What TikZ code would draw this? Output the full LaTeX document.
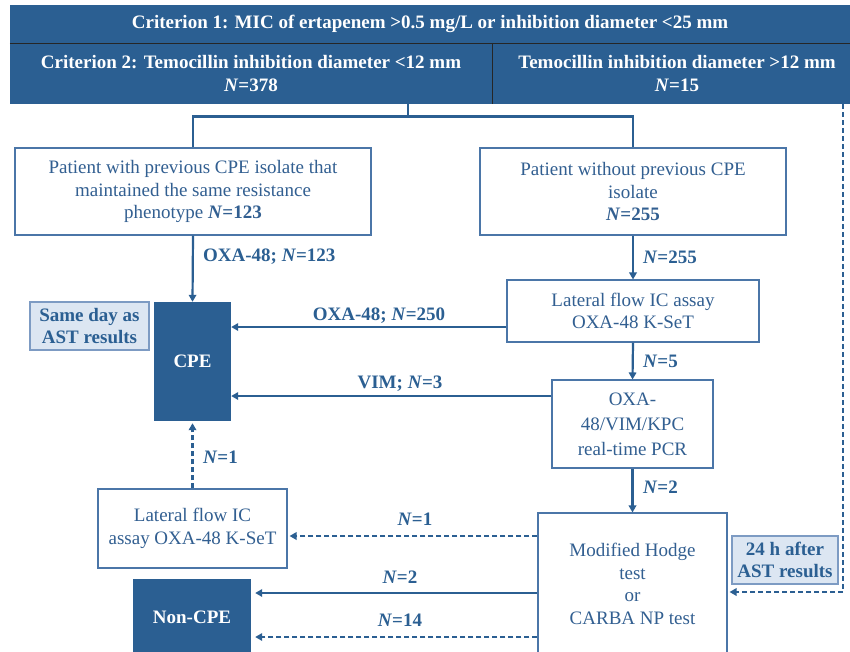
\documentclass[tikz,border=0pt]{standalone}
\usepackage{fontspec}
\setmainfont{Liberation Serif}
\usetikzlibrary{arrows.meta,calc}
\definecolor{dblue}{RGB}{43,95,146}
\definecolor{tblue}{RGB}{50,95,145}
\definecolor{bblue}{RGB}{75,118,168}
\definecolor{lfill}{RGB}{220,230,242}
\definecolor{lborder}{RGB}{125,155,195}
\begin{document}
\begin{tikzpicture}[x=1pt,y=-1pt,
  font=\fontsize{19}{22.5}\selectfont,
  hdr/.style={fill=dblue, text=white, font=\fontsize{19}{23}\selectfont\bfseries, inner sep=0pt, align=center},
  wbox/.style={draw=bblue, line width=1.1pt, fill=white, text=tblue, inner sep=0pt, align=center},
  dbox/.style={fill=dblue, text=white, font=\fontsize{19}{22.5}\selectfont\bfseries, inner sep=0pt, align=center},
  lbox/.style={draw=lborder, line width=1.5pt, fill=lfill, text=dblue, font=\fontsize{19}{22.5}\selectfont\bfseries, inner sep=0pt, align=center},
  arr/.style={draw=dblue, line width=2.2pt, -{Triangle[length=7pt,width=7.5pt]}},
  darr/.style={arr, dash pattern=on 5pt off 3pt},
  conn/.style={draw=dblue, line width=2.4pt},
  lab/.style={text=dblue, font=\fontsize{19}{22.5}\selectfont\bfseries, inner sep=0pt},
]
\useasboundingbox (0,0) rectangle (850,651);
\clip (0,0) rectangle (850,651);
\fill[white] (0,0) rectangle (850,651);

% header
\node[hdr, minimum width=840pt, minimum height=38pt] (h1) at (430,24)
  {Criterion 1: MIC of ertapenem >0.5 mg/L or inhibition diameter <25 mm};
\node[hdr, minimum width=482pt, minimum height=61pt] (h2L) at (251,73.5)
  {Criterion 2: Temocillin inhibition diameter <12 mm\\\textit{N}=378};
\node[hdr, minimum width=370pt, minimum height=61pt] (h2R) at (677,73.5)
  {Temocillin inhibition diameter >12 mm\\\textit{N}=15};
\draw[black!85, line width=1.4pt] (h1.south west) -- (h1.south east);
\draw[black!85, line width=1.4pt] (h2L.north east) -- (h2L.south east);

% boxes
\node[wbox, minimum width=356pt, minimum height=87pt] (pL) at (193,191.5)
  {Patient with previous CPE isolate that\\maintained the same resistance\\phenotype \textbf{\textit{N}=123}};
\node[wbox, minimum width=306pt, minimum height=87pt] (pR) at (633,191.5)
  {Patient without previous CPE\\isolate\\\textbf{\textit{N}=255}};
\node[wbox, minimum width=252pt, minimum height=62pt] (lf) at (633,311)
  {Lateral flow IC assay\\OXA-48 K-SeT};
\node[wbox, minimum width=161pt, minimum height=88pt] (pcr) at (632.5,424)
  {OXA-\\[2.5pt]48/VIM/KPC\\[2.5pt]real-time PCR};
\node[wbox, minimum width=189pt, minimum height=142pt] (hodge) at (632.5,584)
  {Modified Hodge\\test\\or\\CARBA NP test};
\node[dbox, minimum width=77pt, minimum height=119pt] (cpe) at (192.5,361.5) {CPE};
\node[lbox, minimum width=119pt, minimum height=48pt] (same) at (89.5,326)
  {Same day as\\AST results};
\node[wbox, minimum width=189pt, minimum height=79pt] (lf2) at (192.5,528.5)
  {Lateral flow IC\\assay OXA-48 K-SeT};
\node[dbox, minimum width=118pt, minimum height=76pt] (noncpe) at (192,617) {Non-CPE};
\node[lbox, minimum width=106pt, minimum height=48pt] (h24) at (785,560)
  {24 h after\\AST results};

% top connector
\coordinate (hx) at ([xshift=-84pt]h2L.south east);
\coordinate (jy) at ([yshift=31pt]pL.north);
\draw[conn] (hx) -- (hx |- jy);
\draw[conn] (pL.north) -- (pL.north |- jy) -- (pR.north |- jy) -- (pR.north);

% vertical arrows
\draw[arr] (pL.south) -- (cpe.north);
\node[lab, anchor=west] (l123) at (203,257) {OXA-48; \textit{N}=123};
\draw[arr] (pR.south) -- (lf.north);
\node[lab, anchor=west] (l255) at (643,257) {\textit{N}=255};
\draw[arr] (lf.south) -- (pcr.north);
\node[lab, anchor=west] (l5) at (643,361) {\textit{N}=5};
\draw[arr] (pcr.south) -- (hodge.north);
\node[lab, anchor=west] (l2a) at (643,487) {\textit{N}=2};
\draw[darr, shorten >=2pt] (lf2.north) -- (cpe.south);
\node[lab, anchor=west] (l1a) at (203,457) {\textit{N}=1};

% horizontal arrows
\coordinate (a1) at ([yshift=-16pt]lf.west);
\draw[arr] (a1) -- (a1 -| cpe.east);
\node[lab] (l250) at (379,316) {OXA-48; \textit{N}=250};
\coordinate (a2) at ([yshift=28pt]pcr.west);
\draw[arr] (a2) -- (a2 -| cpe.east);
\node[lab] (l3) at (400,384) {VIM; \textit{N}=3};
\coordinate (a3) at ([yshift=48pt]hodge.west);
\draw[darr, shorten >=2pt] (a3) -- (a3 -| lf2.east);
\node[lab] (l1b) at (415,519) {\textit{N}=1};
\coordinate (a4) at ([yshift=-9pt]hodge.west);
\draw[arr, shorten >=4pt] (a4) -- (a4 -| noncpe.east);
\node[lab] (l2b) at (400,577) {\textit{N}=2};
\coordinate (a5) at ([yshift=-53pt]hodge.west);
\draw[darr, shorten >=4pt] (a5) -- (a5 -| noncpe.east);
\node[lab] (l14) at (400,620) {\textit{N}=14};

% right dashed connector
\coordinate (dtop) at ([xshift=-19pt]h2R.south east);
\coordinate (din) at ([yshift=-8pt]hodge.east);
\draw[darr, shorten >=2pt] (dtop) |- (din);
\end{tikzpicture}
\end{document}
